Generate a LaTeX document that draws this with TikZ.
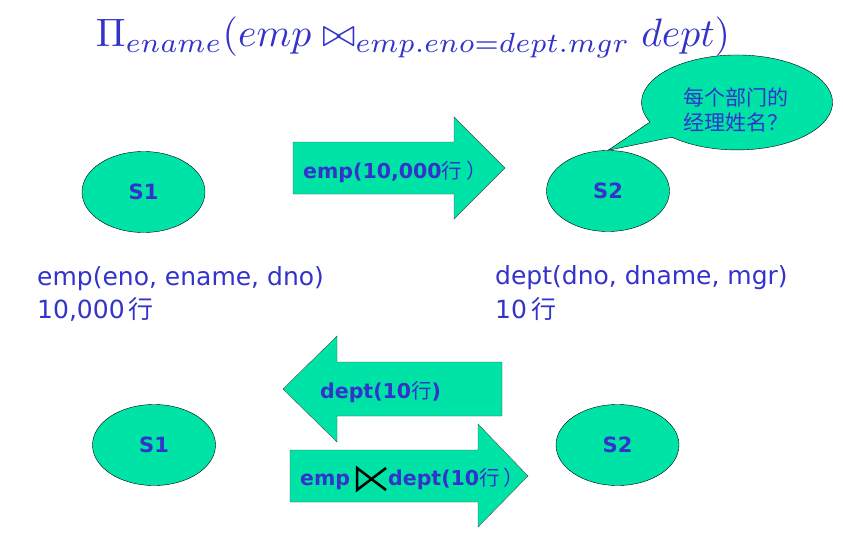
\documentclass[tikz,border=0pt]{standalone}
\usepackage{fontspec}
\usepackage{graphicx}
\setsansfont{DejaVu Sans}
\newfontfamily\cjk{Noto Sans CJK SC}
\usetikzlibrary{shapes.geometric}

\definecolor{sitegreen}{RGB}{0,227,166}
\definecolor{txtblue}{RGB}{51,51,204}

\tikzset{
  site/.style={ellipse,draw=black,fill=sitegreen,minimum width=123pt,minimum height=81pt,
    inner sep=0pt,text=txtblue,font=\sffamily\bfseries\fontsize{21}{24}\selectfont},
  bigarrow/.style={draw=black!70,fill=sitegreen},
  msg/.style={anchor=base west,inner sep=0pt,text=txtblue,font=\sffamily\bfseries\fontsize{20.5}{24}\selectfont},
  rel/.style={anchor=base west,inner sep=0pt,text=txtblue,font=\sffamily\fontsize{25}{29}\selectfont}
}
\newcommand{\hang}{{\cjk\mdseries 行}}

\begin{document}
\begin{tikzpicture}[x=1pt,y=-1pt]
        \useasboundingbox (0,0) rectangle (843,538);

        % dotaz
        \node[text=txtblue] (query) at (413,37)
        {\resizebox{634pt}{!}{$\Pi_{ename}(emp \bowtie_{emp.eno=dept.mgr} dept)$}};

        % uzly S1, S2
        \node[site] (s1top) at (143.5,192) {S1};
        \node[site] (s2top) at (608,191) {S2};
        \node[site] (s1bot) at (154,445) {S1};
        \node[site] (s2bot) at (617.5,445) {S2};

        % bublina
        \filldraw[fill=sitegreen,draw=black]
        (650,122) arc[start angle=155.7,end angle=492.9,x radius=95.5,y radius=47.5] -- (s2top.north) -- cycle;
        \node[text=txtblue,font=\cjk\fontsize{21}{25}\selectfont,align=left] (ask) at (736,110)
        {每个部门的\\经理姓名？};

        % relace
        \node[rel] (emprel) at (37,285) {emp(eno, ename, dno)};
        \node[rel] (emprows) at (37,318) {10,000\,\hang};
        \node[rel] (deptrel) at (495,284) {dept(dno, dname, mgr)};
        \node[rel] (deptrows) at (495,318) {10\,\hang};

        % prenos emp do S2
        \filldraw[bigarrow]
        (293,142) -- (454,142) -- (454,117) -- (505,168) -- (454,219) -- (454,194) -- (293,194) -- cycle;
        \node[msg] (empmsg) at (303,178) {emp(10,000\hang{\cjk\mdseries\hspace{4pt}）}};

        % prenos dept do S1
        \filldraw[bigarrow]
        (502,362) -- (337,362) -- (337,336) -- (283,389) -- (337,442) -- (337,416) -- (502,416) -- cycle;
        \node[msg] (deptmsg) at (320,398) {dept(10\hang)};

        % polospojeni zpet do S2
        \filldraw[bigarrow]
        (290,450) -- (478,450) -- (478,424) -- (528,476) -- (478,527) -- (478,502) -- (290,502) -- cycle;
        \node[msg] (empsemi) at (300,485) {emp};
        \draw[line width=2.5pt] (386,490) -- (357,468) -- (357,490) -- (386,468);
        \node[msg] (deptsemi) at (388,485) {dept(10\hang{\cjk\mdseries\hspace{4pt}）}};
    \end{tikzpicture}
\end{document}
